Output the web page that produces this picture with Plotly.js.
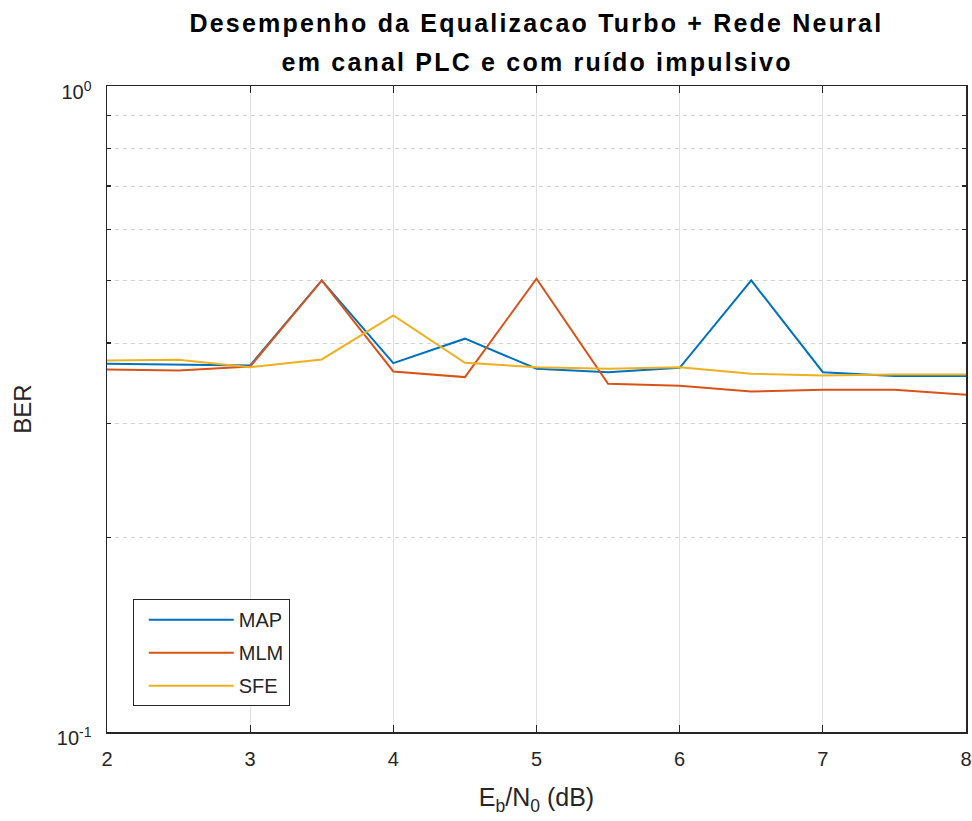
<!DOCTYPE html>
<html>
<head>
<meta charset="utf-8">
<script src="https://cdn.plot.ly/plotly-3.0.1.min.js"></script>
<style>
  html, body { margin: 0; padding: 0; background: #fff; }
  #chart { width: 972px; height: 821px; }
  .annotation[data-index="0"] text, .annotation[data-index="1"] text { letter-spacing: 2.2px; }
</style>
</head>
<body>
<div id="chart"></div>
<script>
// Eb/N0 sweep (dB)
const ebn0 = [2, 2.5, 3, 3.5, 4, 4.5, 5, 5.5, 6, 6.5, 7, 7.5, 8];

// Bit error rate per equalizer
const berMAP = [0.3716, 0.3707, 0.3693, 0.500, 0.3724, 0.4063, 0.3650, 0.3606, 0.3663, 0.500, 0.3606, 0.3556, 0.3556];
const berMLM = [0.3641, 0.3628, 0.3680, 0.500, 0.3615, 0.3543, 0.5032, 0.3459, 0.3435, 0.3366, 0.3386, 0.3386, 0.3327];
const berSFE = [0.3759, 0.3769, 0.3671, 0.3773, 0.4415, 0.3728, 0.3671, 0.3650, 0.3671, 0.3586, 0.3564, 0.3577, 0.3577];

const seriesNames = ['MAP', 'MLM', 'SFE'];
const seriesColors = ['#0072BD', '#D95319', '#EDB120'];

const xTicks = [2, 3, 4, 5, 6, 7, 8];
const yTickVals = [0.1, 1];
const yTickText = ['10<sup>-1</sup>', '10<sup>0</sup>'];
const yMinorVals = [0.2, 0.3, 0.4, 0.5, 0.6, 0.7, 0.8, 0.9];

const titleLines = [
  'Desempenho da Equalizacao Turbo + Rede Neural',
  'em canal PLC e com ruído impulsivo'
];

const W = 972, H = 821;
const M = { l: 107, r: 6, t: 86, b: 89 };
const plotH = H - M.t - M.b;
const pxToPaperY = py => 1 + (M.t - py) / plotH;

const axisColor = '#262626';
const font = 'Arial, "Liberation Sans", Helvetica, sans-serif';

const traces = [berMAP, berMLM, berSFE].map((ys, i) => ({
  type: 'scatter',
  mode: 'lines',
  x: ebn0,
  y: ys,
  name: seriesNames[i],
  legendgroup: seriesNames[i],
  line: { color: seriesColors[i], width: 2 }
}));

const layout = {
  width: W,
  height: H,
  margin: M,
  paper_bgcolor: '#ffffff',
  plot_bgcolor: '#ffffff',
  font: { family: font, color: axisColor, size: 18 },
  showlegend: true,
  legend: {
    x: 0.030, y: 0.040, xanchor: 'left', yanchor: 'bottom',
    bgcolor: '#ffffff', bordercolor: axisColor, borderwidth: 1,
    font: { family: font, size: 20, color: axisColor },
    itemwidth: 85,
    indentation: 10,
    tracegroupgap: 4
  },
  xaxis: {
    type: 'linear',
    range: [2, 8],
    tickmode: 'array',
    tickvals: xTicks,
    ticks: 'inside',
    ticklen: 7,
    tickwidth: 1.2,
    tickcolor: axisColor,
    showline: true,
    linecolor: axisColor,
    linewidth: 1.5,
    mirror: 'ticks',
    showgrid: true,
    gridcolor: '#e0e0e0',
    gridwidth: 1,
    zeroline: false,
    ticklabelstandoff: 8,
    tickfont: { family: font, size: 20, color: axisColor },
    title: {
      text: 'E<sub>b</sub>/N<sub>0</sub> (dB)',
      font: { family: font, size: 25, color: axisColor },
      standoff: 20
    }
  },
  yaxis: {
    type: 'log',
    range: [-1, 0],
    tickmode: 'array',
    tickvals: yTickVals,
    ticktext: yTickText,
    ticks: 'inside',
    ticklen: 7,
    tickwidth: 1.2,
    tickcolor: axisColor,
    showline: true,
    linecolor: axisColor,
    linewidth: 1.5,
    mirror: 'ticks',
    showgrid: false,
    zeroline: false,
    ticklabelstandoff: 10,
    ticklabelshift: 6,
    tickfont: { family: font, size: 20, color: axisColor },
    minor: {
      tickmode: 'array',
      tickvals: yMinorVals,
      ticks: 'inside',
      ticklen: 4,
      tickcolor: axisColor,
      showgrid: true,
      gridcolor: '#d2d2d2',
      griddash: '4px,4px',
      gridwidth: 1
    },
    title: {
      text: 'BER',
      font: { family: font, size: 24, color: axisColor },
      standoff: 18
    }
  },
  annotations: [
    {
      text: '<b>' + titleLines[0] + '</b>',
      xref: 'paper', yref: 'paper',
      x: 0.5, y: pxToPaperY(23), xanchor: 'center', yanchor: 'middle',
      showarrow: false,
      font: { family: font, size: 25, color: '#000000' }
    },
    {
      text: '<b>' + titleLines[1] + '</b>',
      xref: 'paper', yref: 'paper',
      x: 0.5, y: pxToPaperY(62), xanchor: 'center', yanchor: 'middle',
      showarrow: false,
      font: { family: font, size: 25, color: '#000000' }
    }
  ]
};

Plotly.newPlot('chart', traces, layout, { staticPlot: true, displayModeBar: false });
</script>
</body>
</html>
